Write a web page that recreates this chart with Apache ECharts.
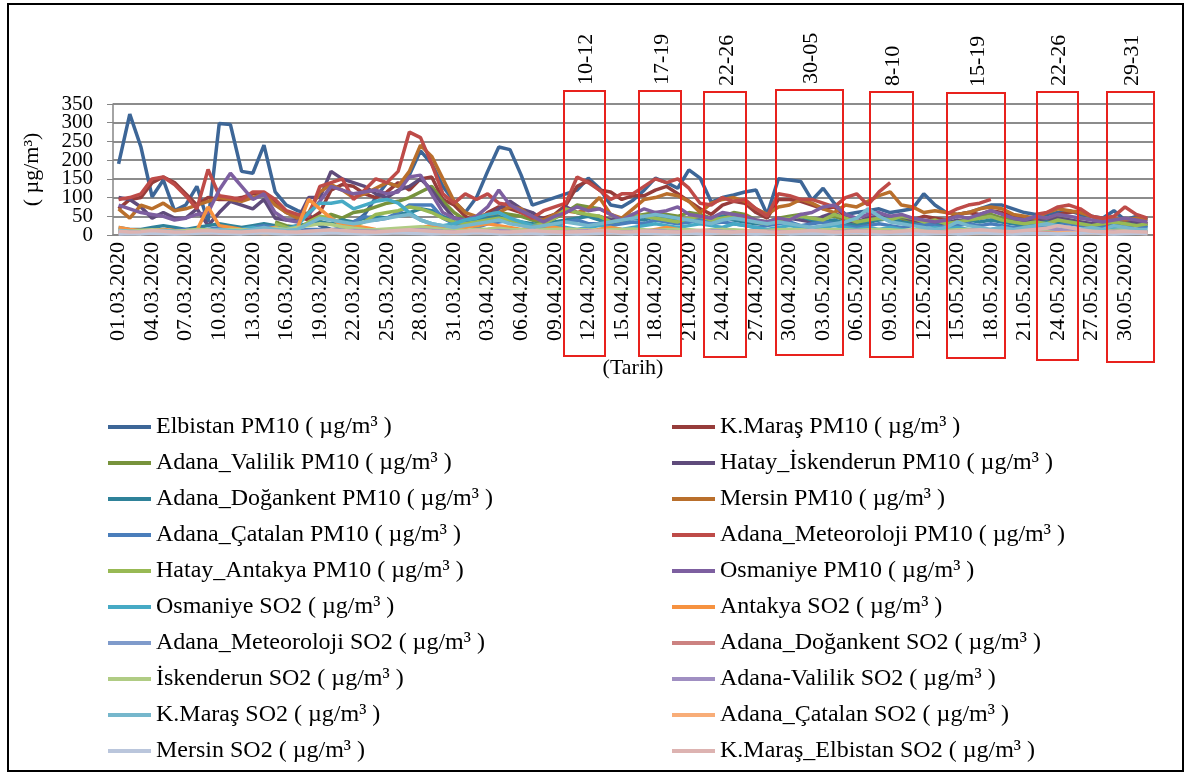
<!DOCTYPE html>
<html>
<head>
<meta charset="utf-8">
<script src="https://cdn.jsdelivr.net/npm/echarts@6/dist/echarts.min.js"></script>
<style>
  html, body { margin: 0; padding: 0; background: #fff; }
  #chart { width: 1189px; height: 776px; }
</style>
</head>
<body>
<div id="chart"></div>
<script>
// categories: daily from 01.03.2020 to 01.06.2020
const monthDays = [[3, 31], [4, 30], [5, 31], [6, 1]]
const dates = []
monthDays.forEach(([m, n]) => {
  for (let d = 1; d <= n; d++) {
    dates.push(String(d).padStart(2, '0') + '.' + String(m).padStart(2, '0') + '.2020')
  }
})

// y tick labels
const yTicks = [0, 50, 100, 150, 200, 250, 300, 350]

const unit = ' ( µg/m³ )'
const seriesNames = [
  'Elbistan PM10', 'K.Maraş PM10', 'Adana_Valilik PM10', 'Hatay_İskenderun PM10',
  'Adana_Doğankent PM10', 'Mersin PM10', 'Adana_Çatalan PM10', 'Adana_Meteoroloji PM10',
  'Hatay_Antakya PM10', 'Osmaniye PM10', 'Osmaniye SO2', 'Antakya SO2',
  'Adana_Meteoroloji SO2', 'Adana_Doğankent SO2', 'İskenderun SO2', 'Adana-Valilik SO2',
  'K.Maraş SO2', 'Adana_Çatalan SO2', 'Mersin SO2', 'K.Maraş_Elbistan SO2'
].map(n => n + unit)

const seriesColors = [
  '#3d6697', '#963c3a', '#77933c', '#5f4b7b', '#2f8299', '#b96f2c', '#4a7ebb', '#be4b48',
  '#98b954', '#7d5fa0', '#46aac5', '#f69240', '#7f9bcb', '#cc8281', '#b0cc84', '#a08fc2',
  '#76b7cc', '#f8ad78', '#bac6dc', '#ddb3b1'
]

const elbistanPM10 = [
  190, 323, 235, 102, 147, 65, 80, 130, 35, 298,
  295, 170, 165, 240, 115, 80, 65, 55, 25, 15,
  15, 30, 55, 100, 140, 130, 160, 225, 190, 130,
  90, 60, 100, 170, 235, 228, 160, 80, 90, 100,
  110, 120, 152, 125, 80, 75, 93, 120, 152, 140,
  125, 174, 152, 88, 100, 107, 115, 120, 55, 150,
  147, 143, 93, 125, 85, 55, 60, 65, 70, 60,
  65, 70, 110, 80, 60, 55, 60, 70, 80, 80,
  70, 60, 55, 55, 60, 65, 55, 50, 45, 65,
  40, 50, 40
]
const kmarasPM10 = [
  70, 95, 100, 140, 155, 140, 110, 80, 100, 95,
  95, 100, 110, 110, 85, 60, 50, 40, 60, 120,
  135, 130, 110, 100, 115, 140, 120, 150, 155, 95,
  80, 50, 35, 60, 75, 70, 60, 50, 45, 55,
  80, 130, 145, 120, 115, 95, 105, 105, 120, 130,
  110, 90, 70, 55, 80, 90, 85, 60, 45, 95,
  95, 90, 80, 70, 75, 50, 35, 30, 45, 50,
  35, 40, 50, 45, 40, 55, 60, 55, 65, 60,
  50, 45, 45, 40, 55, 60, 65, 50, 40, 35,
  40, 35, 30
]
const adanaValilikPM10 = [
  null, null, null, null, null, null, null, null, null, null,
  null, null, null, null, 35, 25, 20, 30, 40, 55,
  45, 60, 65, 75, 85, 90, 100, 115, 130, 90,
  60, 40, 35, 45, 60, 55, 50, 40, 30, 45,
  60, 80, 75, 70, 55, 40, 50, 55, 60, 55,
  50, 60, 55, 45, 50, 60, 55, 40, 35, 45,
  50, 55, 40, 45, 50, 40, 30, 45, 50, 40,
  45, 35, 30, 35, 40, 30, 45, 50, 55, 45,
  40, 35, 40, 35, 45, 40, 35, 30, 25, 30,
  35, 30, 25
]
const hatayIskenderunPM10 = [
  100, 95, 75, 45, 60, 45, 45, 70, 25, 60,
  90, 80, 70, 95, 45, 40, 40, 100, 100, 170,
  150, 140, 130, 110, 100, 120, 130, 150, 120, 80,
  45, 40, 35, 50, 70, 90, 70, 60, 40, 50,
  75, 60, 50, 50, 40, 45, 55, 50, 55, 50,
  35, 40, 45, 40, 50, 45, 40, 35, 30, 40,
  45, 40, 35, 50, 60, 40, 35, 45, 50, 45,
  50, 40, 35, 30, 30, 40, 35, 45, 50, 40,
  35, 35, 40, 35, 45, 40, 35, 30, 30, 35,
  40, 35, 30
]
const adanaDogankentPM10 = [
  20, 15, 15, 20, 25, 20, 15, 20, 25, 30,
  25, 20, 25, 30, 25, 20, 25, 30, 35, 30,
  40, 35, 45, 50, 45, 55, 60, 70, 65, 50,
  35, 30, 40, 45, 50, 40, 35, 30, 25, 35,
  40, 45, 50, 40, 30, 35, 45, 40, 50, 45,
  40, 35, 40, 45, 50, 40, 35, 30, 35, 40,
  45, 50, 40, 35, 40, 30, 25, 35, 40, 45,
  35, 30, 25, 30, 35, 30, 40, 35, 40, 35,
  30, 25, 30, 35, 30, 35, 30, 25, 20, 25,
  30, 25, 20
]
const mersinPM10 = [
  70, 45, 80, 70, 85, 65, 70, 80, 90, 100,
  95, 90, 100, 110, 80, 60, 45, 60, 115, 135,
  120, 100, 110, 125, 140, 130, 170, 240, 210, 150,
  90, 60, 50, 55, 60, 75, 70, 45, 40, 55,
  65, 60, 70, 100, 55, 45, 70, 95, 100, 110,
  105, 90, 60, 85, 95, 100, 90, 70, 55, 75,
  80, 95, 85, 70, 60, 80, 75, 90, 105, 115,
  80, 75, 60, 65, 60, 55, 60, 70, 75, 70,
  55, 50, 45, 60, 70, 65, 60, 50, 40, 45,
  40, 45, 40
]
const adanaCatalanPM10 = [
  10, 12, 10, 12, 10, 12, 15, 12, 15, 20,
  15, 15, 20, 25, 20, 15, 12, 15, 15, 12,
  20, 35, 50, 40, 45, 60, 80, 80, 80, 45,
  30, 25, 20, 30, 35, 40, 30, 25, 20, 25,
  35, 40, 30, 30, 25, 30, 35, 30, 40, 35,
  30, 35, 40, 30, 35, 30, 25, 20, 25, 30,
  35, 25, 30, 35, 30, 25, 20, 25, 30, 25,
  20, 25, 30, 25, 20, 25, 30, 25, 30, 25,
  20, 20, 25, 20, 25, 30, 25, 20, 20, 25,
  20, 25, 20
]
const adanaMeteorolojiPM10 = [
  95, 100, 110, 150, 155, 135, 105, 70, 175, 105,
  100, 95, 115, 115, 95, 65, 55, 50, 130, 140,
  150, 95, 120, 150, 140, 170, 275, 260, 190, 110,
  85, 110, 95, 110, 85, 80, 60, 45, 65, 75,
  85, 155, 140, 120, 95, 110, 110, 130, 150, 140,
  150, 125, 85, 80, 100, 90, 95, 70, 50, 110,
  105, 95, 95, 85, 75, 100, 110, 80, 115, 140,
  null, null, null, null, 55, 70, 80, 85, 95, null,
  null, null, 55, 60, 75, 80, 70, 50, 45, 50,
  75, 55, 45
]
const hatayAntakyaPM10 = [
  null, null, null, null, null, null, null, null, null, null,
  null, null, null, null, 30, 20, 15, 35, 50, 45,
  30, 25, 35, 55, 60, 65, 75, 70, 60, 45,
  35, 30, 35, 40, 45, 40, 30, 25, 30, 45,
  70, 60, 55, 50, 35, 40, 55, 50, 45, 40,
  35, 45, 50, 40, 45, 50, 45, 35, 30, 40,
  45, 50, 45, 40, 55, 45, 35, 40, 45, 40,
  50, 45, 35, 40, 30, 35, 40, 45, 50, 40,
  35, 30, 35, 30, 40, 35, 30, 25, 30, 35,
  30, 25, 30
]
const osmaniyePM10 = [
  80, 70, 60, 55, 50, 40, 45, 55, 60, 120,
  165, 130, 95, 110, 60, 40, 35, 55, 90, 130,
  120, 110, 115, 120, 110, 115, 155, 160, 110, 60,
  45, 40, 50, 75, 120, 80, 65, 50, 35, 50,
  60, 75, 65, 70, 55, 40, 55, 70, 60, 65,
  75, 55, 50, 45, 60, 55, 50, 40, 35, 45,
  40, 55, 60, 75, 80, 55, 45, 55, 60, 50,
  55, 45, 40, 35, 40, 50, 45, 55, 65, 55,
  45, 40, 50, 45, 55, 50, 45, 40, 35, 40,
  45, 40, 35
]
const osmaniyeSO2 = [
  10, 8, 10, 12, 10, 8, 10, 12, 15, 10,
  12, 15, 20, 15, 20, 15, 25, 60, 85, 85,
  90, 70, 80, 90, 95, 85, 60, 40, 30, 25,
  30, 40, 45, 55, 60, 45, 35, 25, 20, 25,
  20, 15, 20, 25, 20, 15, 20, 25, 30, 25,
  20, 25, 30, 25, 20, 30, 25, 20, 15, 20,
  25, 20, 15, 20, 25, 20, 15, 20, 15, 20,
  15, 10, 15, 20, 15, 20, 15, 10, 15, 20,
  15, 10, 15, 20, 15, 10, 15, 10, 15, 20,
  15, 10, 10
]
const antakyaSO2 = [
  20, 15, 12, 12, 15, 12, 10, 12, 75, 25,
  20, 15, 12, 15, 20, 10, 20, 95, 70, 45,
  25, 25, 20, 15, 12, 10, 15, 20, 25, 20,
  15, 20, 25, 30, 25, 20, 15, 20, 25, 20,
  15, 12, 10, 15, 20, 15, 12, 10, 15, 20,
  15, 12, 10, 12, 15, 10, 12, 10, 8, 10,
  12, 10, 8, 10, 12, 10, 8, 10, 12, 10,
  8, 10, 12, 10, 8, 10, 12, 10, 8, 10,
  12, 10, 8, 10, 12, 10, 8, 10, 12, 10,
  8, 10, 8
]
const adanaMeteorolojiSO2 = [
  8, 7, 6, 8, 9, 7, 6, 8, 10, 9,
  8, 7, 9, 10, 8, 7, 6, 8, 9, 10,
  12, 11, 9, 8, 7, 9, 10, 12, 11, 9,
  8, 7, 8, 9, 10, 9, 8, 7, 6, 8,
  9, 10, 9, 8, 7, 8, 9, 10, 11, 9,
  8, 7, 8, 9, 8, 7, 6, 7, 8, 9,
  8, 7, 6, 7, 8, 9, 8, 7, 6, 7,
  8, 7, 6, 7, 8, 9, 8, 7, 6, 7,
  8, 7, 6, 7, 8, 9, 8, 7, 6, 7,
  8, 7, 6
]
const adanaDogankentSO2 = [
  5, 6, 5, 4, 5, 6, 7, 6, 5, 4,
  5, 6, 5, 6, 7, 6, 5, 4, 5, 6,
  7, 8, 6, 5, 6, 7, 8, 9, 7, 6,
  5, 6, 7, 6, 5, 6, 5, 4, 5, 6,
  7, 6, 5, 6, 7, 8, 6, 5, 6, 7,
  6, 5, 6, 7, 6, 5, 4, 5, 6, 5,
  6, 7, 6, 5, 6, 7, 6, 5, 4, 5,
  6, 5, 6, 7, 6, 5, 6, 7, 6, 5,
  6, 7, 8, 9, 12, 10, 8, 7, 6, 5,
  6, 5, 5
]
const iskenderunSO2 = [
  12, 10, 12, 14, 12, 10, 12, 15, 14, 12,
  15, 14, 12, 15, 18, 15, 20, 25, 30, 28,
  22, 18, 15, 14, 16, 18, 20, 22, 18, 15,
  14, 12, 15, 16, 18, 15, 14, 12, 14, 15,
  16, 15, 14, 12, 14, 15, 16, 14, 12, 14,
  15, 14, 12, 14, 15, 14, 12, 10, 12, 14,
  15, 14, 12, 14, 15, 14, 12, 14, 15, 14,
  12, 14, 15, 14, 12, 14, 15, 14, 12, 14,
  12, 14, 15, 16, 14, 12, 14, 12, 10, 12,
  14, 12, 10
]
const adanaValilikSO2 = [
  6, 5, 6, 7, 8, 7, 6, 8, 9, 12,
  10, 8, 12, 14, 10, 8, 9, 10, 8, 9,
  10, 12, 11, 10, 9, 10, 12, 14, 12, 10,
  9, 8, 9, 10, 12, 10, 9, 8, 7, 8,
  9, 10, 12, 10, 9, 8, 9, 10, 12, 10,
  9, 8, 10, 12, 10, 9, 8, 9, 10, 9,
  8, 9, 10, 9, 8, 10, 12, 10, 9, 8,
  9, 10, 9, 8, 9, 10, 12, 14, 12, 10,
  12, 14, 16, 18, 15, 12, 10, 9, 8, 10,
  9, 8, 9
]
const kmarasSO2 = [
  12, 10, 8, 10, 12, 10, 8, 10, 12, 15,
  12, 10, 15, 20, 15, 12, 15, 30, 45, 40,
  35, 30, 35, 40, 45, 50, 55, 40, 30, 25,
  20, 25, 30, 35, 40, 30, 25, 20, 25, 30,
  35, 30, 25, 30, 35, 40, 45, 50, 55, 50,
  45, 40, 35, 30, 40, 45, 40, 35, 30, 35,
  30, 25, 20, 25, 30, 35, 45, 70, 50, 35,
  30, 25, 20, 15, 20, 35, 25, 20, 15, 20,
  15, 20, 25, 30, 25, 20, 15, 20, 15, 25,
  20, 15, 15
]
const adanaCatalanSO2 = [
  6, 5, 4, 6, 7, 5, 4, 5, 6, 8,
  7, 5, 6, 4, 5, 7, 6, 5, 8, 9,
  7, 6, 5, 6, 8, 7, 5, 6, 7, 5,
  4, 5, 6, 7, 6, 5, 4, 6, 5, 7,
  6, 5, 4, 5, 7, 6, 5, 6, 4, 5,
  6, 7, 5, 4, 6, 5, 7, 6, 5, 4,
  5, 6, 7, 5, 4, 6, 5, 7, 6, 5,
  4, 5, 6, 7, 5, 6, 4, 5, 6, 7,
  5, 6, 5, 4, 6, 7, 5, 6, 4, 5,
  6, 5, 4
]
const mersinSO2 = [
  3, 4, 3, 5, 4, 3, 4, 5, 6, 5,
  4, 3, 5, 6, 4, 3, 4, 5, 4, 6,
  5, 4, 3, 4, 5, 6, 5, 4, 3, 4,
  5, 4, 6, 5, 3, 4, 5, 4, 3, 5,
  4, 3, 4, 5, 6, 4, 3, 5, 4, 3,
  4, 5, 3, 4, 6, 5, 4, 3, 4, 5,
  3, 4, 5, 4, 3, 5, 6, 4, 3, 4,
  5, 4, 3, 4, 5, 3, 4, 6, 5, 4,
  3, 4, 5, 4, 3, 4, 5, 6, 4, 3,
  4, 5, 3
]
const kmarasElbistanSO2 = [
  10, 8, 9, 12, 10, 8, 9, 11, 12, 10,
  9, 8, 10, 12, 11, 9, 8, 10, 12, 14,
  12, 10, 9, 8, 10, 12, 14, 12, 10, 9,
  8, 10, 12, 11, 9, 8, 10, 12, 10, 9,
  8, 9, 10, 12, 10, 8, 9, 11, 10, 9,
  8, 10, 12, 10, 9, 8, 10, 11, 9, 8,
  9, 10, 12, 10, 8, 9, 11, 10, 9, 8,
  10, 12, 10, 9, 8, 10, 12, 14, 12, 10,
  9, 12, 15, 18, 25, 20, 14, 10, 9, 8,
  10, 9, 8
]

const seriesValues = [
  elbistanPM10, kmarasPM10, adanaValilikPM10, hatayIskenderunPM10,
  adanaDogankentPM10, mersinPM10, adanaCatalanPM10, adanaMeteorolojiPM10,
  hatayAntakyaPM10, osmaniyePM10, osmaniyeSO2, antakyaSO2,
  adanaMeteorolojiSO2, adanaDogankentSO2, iskenderunSO2, adanaValilikSO2,
  kmarasSO2, adanaCatalanSO2, mersinSO2, kmarasElbistanSO2
]

// highlighted periods (labels drawn above the red boxes)
const periodLabels = ['10-12', '17-19', '22-26', '30-05', '8-10', '15-19', '22-26', '29-31']

const FONT = 'Liberation Serif'
const GRID_LEFT = 113
const chart = echarts.init(document.getElementById('chart'))

const legendText = { fontFamily: FONT, fontSize: 24, color: '#000', lineHeight: 28 }
const leftNames = seriesNames.filter((n, i) => i % 2 === 0)
const rightNames = seriesNames.filter((n, i) => i % 2 === 1)

chart.setOption({
  animation: false,
  color: seriesColors,
  grid: { left: GRID_LEFT, right: 36, top: 104, bottom: 541, containLabel: false },
  legend: [
    {
      orient: 'vertical', left: 103, top: 408, data: leftNames,
      icon: 'rect', itemWidth: 43, itemHeight: 4, itemGap: 8,
      textStyle: legendText, selectedMode: false
    },
    {
      orient: 'vertical', left: 667, top: 408, data: rightNames,
      icon: 'rect', itemWidth: 43, itemHeight: 4, itemGap: 8,
      textStyle: legendText, selectedMode: false
    }
  ],
  xAxis: {
    type: 'category',
    data: dates,
    boundaryGap: true,
    name: '(Tarih)',
    nameLocation: 'middle',
    nameGap: 122,
    nameTextStyle: { fontFamily: FONT, fontSize: 22, color: '#000' },
    axisLine: { lineStyle: { color: '#868686', width: 1.5 } },
    axisTick: { interval: 2, length: 6, lineStyle: { color: '#868686' } },
    axisLabel: { interval: 2, rotate: 90, margin: 7, fontFamily: FONT, fontSize: 22, color: '#000' }
  },
  yAxis: {
    type: 'value',
    min: 0,
    max: 350,
    interval: 50,
    name: '( µg/m³)',
    nameLocation: 'middle',
    nameRotate: 90,
    nameGap: 70,
    nameTextStyle: { fontFamily: FONT, fontSize: 22, color: '#000' },
    axisLine: { show: true, lineStyle: { color: '#868686', width: 1.5 } },
    axisTick: { show: true, length: 6, lineStyle: { color: '#868686' } },
    // the tick labels sit closer than their own height, so they are drawn below
    axisLabel: { show: false },
    splitLine: { lineStyle: { color: '#8c8c8c', width: 2 } }
  },
  series: seriesValues.map((vals, i) => ({
    name: seriesNames[i],
    type: 'line',
    data: vals,
    symbol: 'none',
    lineStyle: { width: 3.5 },
    connectNulls: false
  }))
})

// red boxes are hand-placed annotations in the original, kept in pixels
const boxes = [
  [564, 605, 91, 356], [639, 681, 91, 356], [704, 746, 92, 357], [776, 843, 90, 355],
  [870, 913, 92, 357], [947, 1005, 93, 358], [1037, 1078, 92, 360], [1107, 1154, 92, 362]
]

const graphics = [{
  type: 'rect',
  shape: { x: 8, y: 4, width: 1175, height: 767 },
  style: { fill: 'none', stroke: '#000', lineWidth: 2 },
  z: 100
}]
boxes.forEach(([x0, x1, y0, y1], i) => {
  graphics.push({
    type: 'rect',
    shape: { x: x0, y: y0, width: x1 - x0, height: y1 - y0 },
    style: { fill: 'none', stroke: '#e8211d', lineWidth: 2 },
    z: 100
  })
  graphics.push({
    type: 'text',
    x: (x0 + x1) / 2 + 2,
    y: y0 - 6,
    rotation: Math.PI / 2,
    style: {
      text: periodLabels[i],
      align: 'left',
      verticalAlign: 'middle',
      font: '22px "' + FONT + '"',
      fill: '#000'
    },
    z: 100
  })
})

// y tick labels placed through the axis scale
yTicks.forEach(v => {
  graphics.push({
    type: 'text',
    x: GRID_LEFT - 20,
    y: chart.convertToPixel({ yAxisIndex: 0 }, v),
    style: {
      text: String(v),
      align: 'right',
      verticalAlign: 'middle',
      font: '21px "' + FONT + '"',
      fill: '#000'
    }
  })
})

chart.setOption({ graphic: graphics })
</script>
</body>
</html>
